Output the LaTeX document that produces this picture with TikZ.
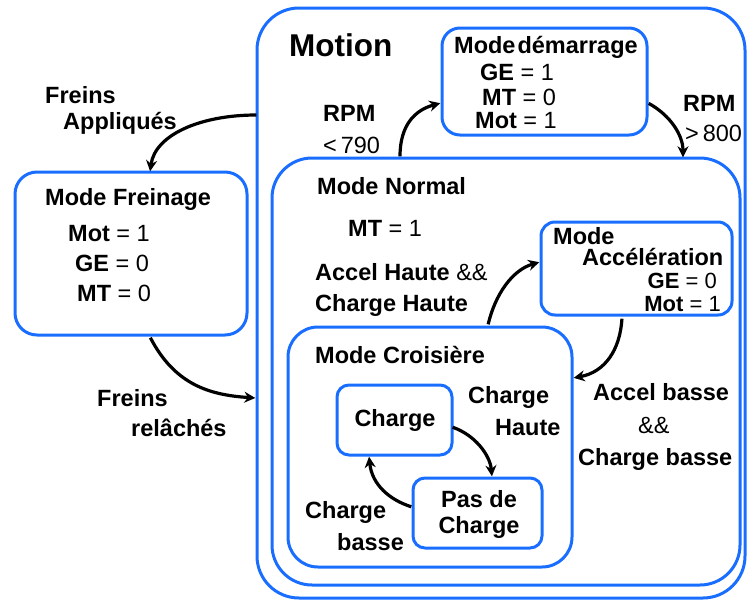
\documentclass[tikz,border=0pt]{standalone}
\usepackage{fontspec}
\setmainfont{Liberation Sans}
\usetikzlibrary{arrows.meta}
\definecolor{boxblue}{RGB}{25,110,255}
\begin{document}
\begin{tikzpicture}[x=1pt,y=-1pt,
  box/.style={draw=boxblue,line width=3pt},
  conn/.style={draw=black,line width=3.2pt,-{Stealth[length=11pt,width=11pt]}},
  lbl/.style={font=\fontsize{23.5}{25}\selectfont\bfseries,inner sep=0pt,align=left},
  reg/.style={font=\fontsize{23.5}{25}\selectfont,inner sep=0pt,align=left},
  sml/.style={font=\fontsize{22}{23}\selectfont\bfseries,inner sep=0pt,align=left}]
\useasboundingbox (0,0) rectangle (747,603);
% boxes
\draw[box,rounded corners=42pt] (257,8) rectangle (745,598);
\draw[box,rounded corners=40pt] (272,158) rectangle (740,585);
\draw[box,rounded corners=30pt] (288,327) rectangle (572,567);
\draw[box,rounded corners=22pt] (15,172) rectangle (247,335);
\draw[box,rounded corners=18pt] (442,28) rectangle (647,135);
\draw[box,rounded corners=14pt] (541,222) rectangle (732,315);
\draw[box,rounded corners=12pt] (337,385) rectangle (452,455);
\draw[box,rounded corners=12pt] (413,478) rectangle (542,548);
% named anchors
\node[inner sep=0] (motionL1) at (257,115) {};
\node[inner sep=0] (motionL2) at (256,398) {};
\node[inner sep=0] (freinT) at (150,172) {};
\node[inner sep=0] (freinB) at (150,337) {};
\node[inner sep=0] (normT1) at (400,157) {};
\node[inner sep=0] (normT2) at (683,158) {};
\node[inner sep=0] (demL) at (441,103) {};
\node[inner sep=0] (demR) at (648,103) {};
\node[inner sep=0] (croisT) at (488,325) {};
\node[inner sep=0] (croisR) at (573,378) {};
\node[inner sep=0] (accL) at (540,262) {};
\node[inner sep=0] (accB) at (622,318) {};
\node[inner sep=0] (chR) at (452,427) {};
\node[inner sep=0] (chB) at (369,456) {};
\node[inner sep=0] (pasT) at (492,477) {};
\node[inner sep=0] (pasL) at (412,507) {};
% connectors
\draw[conn] (motionL1) .. controls (200,115) and (155,135) .. (freinT);
\draw[conn] (freinB) .. controls (175,385) and (210,395) .. (motionL2);
\draw[conn] (normT1) .. controls (400,125) and (415,110) .. (demL);
\draw[conn] (demR) .. controls (670,115) and (683,135) .. (normT2);
\draw[conn] (croisT) .. controls (495,295) and (512,270) .. (accL);
\draw[conn] (accB) .. controls (620,350) and (605,372) .. (croisR);
\draw[conn] (chR) .. controls (475,435) and (490,455) .. (pasT);
\draw[conn] (pasL) .. controls (390,500) and (372,485) .. (chB);
% texts
\node[font=\fontsize{31.5}{33}\selectfont\bfseries,inner sep=0,anchor=west] (tmotion) at (289,45) {Motion};
\node[lbl,anchor=west] (tfa1) at (45,95) {Freins};
\node[lbl,anchor=west] (tfa2) at (63,123) {Appliqués};
\node[lbl,anchor=west] (tfr1) at (97,398) {Freins};
\node[lbl,anchor=west] (tfr2) at (131,428) {relâchés};
\node[lbl,anchor=west] (tfm) at (45,199) {Mode Freinage};
\node[lbl,anchor=west] (tfm1) at (68,234) {Mot \textmd{= 1}};
\node[lbl,anchor=west] (tfm2) at (75,263) {GE \textmd{= 0}};
\node[lbl,anchor=west] (tfm3) at (77,293) {MT \textmd{= 0}};
\node[lbl,anchor=west] (trpm1) at (323,113) {RPM};
\node[reg,anchor=west] (trpm1b) at (323,145) {<\,790};
\node[lbl,anchor=west] (trpm2) at (683,103) {RPM};
\node[reg,anchor=west] (trpm2b) at (685,133) {>\,800};
\node[lbl,anchor=west] (tdm) at (454,47) {Mode\hspace{2pt}démarrage};
\node[lbl,anchor=west] (tdm1) at (480,72) {GE \textmd{= 1}};
\node[lbl,anchor=west] (tdm2) at (482,97) {MT \textmd{= 0}};
\node[lbl,anchor=west] (tdm3) at (475,121) {Mot \textmd{= 1}};
\node[lbl,anchor=west] (tnm) at (317,186) {Mode Normal};
\node[lbl,anchor=west] (tnm1) at (348,228) {MT \textmd{= 1}};
\node[lbl,anchor=west] (tah1) at (315,272) {Accel Haute \textmd{\&\&}};
\node[lbl,anchor=west] (tah2) at (315,305) {Charge Haute};
\node[lbl,anchor=west] (tam) at (553,236) {Mode};
\node[lbl,anchor=west] (tam1) at (582,257) {Accélération};
\node[sml,anchor=east] (tam2) at (717,281) {GE \textmd{= 0}};
\node[sml,anchor=east] (tam3) at (721,304) {Mot \textmd{= 1}};
\node[lbl,anchor=west] (tcm) at (315,355) {Mode Croisière};
\node[lbl] (tch) at (395,420) {Charge};
\node[lbl,anchor=west] (tchh1) at (468,397) {Charge};
\node[lbl,anchor=west] (tchh2) at (495,428) {Haute};
\node[lbl,align=center] (tpas) at (479,514) {Pas de\\[1pt]Charge};
\node[lbl,anchor=west] (tab1) at (593,392) {Accel basse};
\node[reg,anchor=west] (tab2) at (638,425) {\&\&};
\node[lbl,anchor=west] (tab3) at (578,459) {Charge basse};
\node[lbl,anchor=west] (tcb1) at (305,512) {Charge};
\node[lbl,anchor=west] (tcb2) at (337,542) {basse};
\end{tikzpicture}
\end{document}
